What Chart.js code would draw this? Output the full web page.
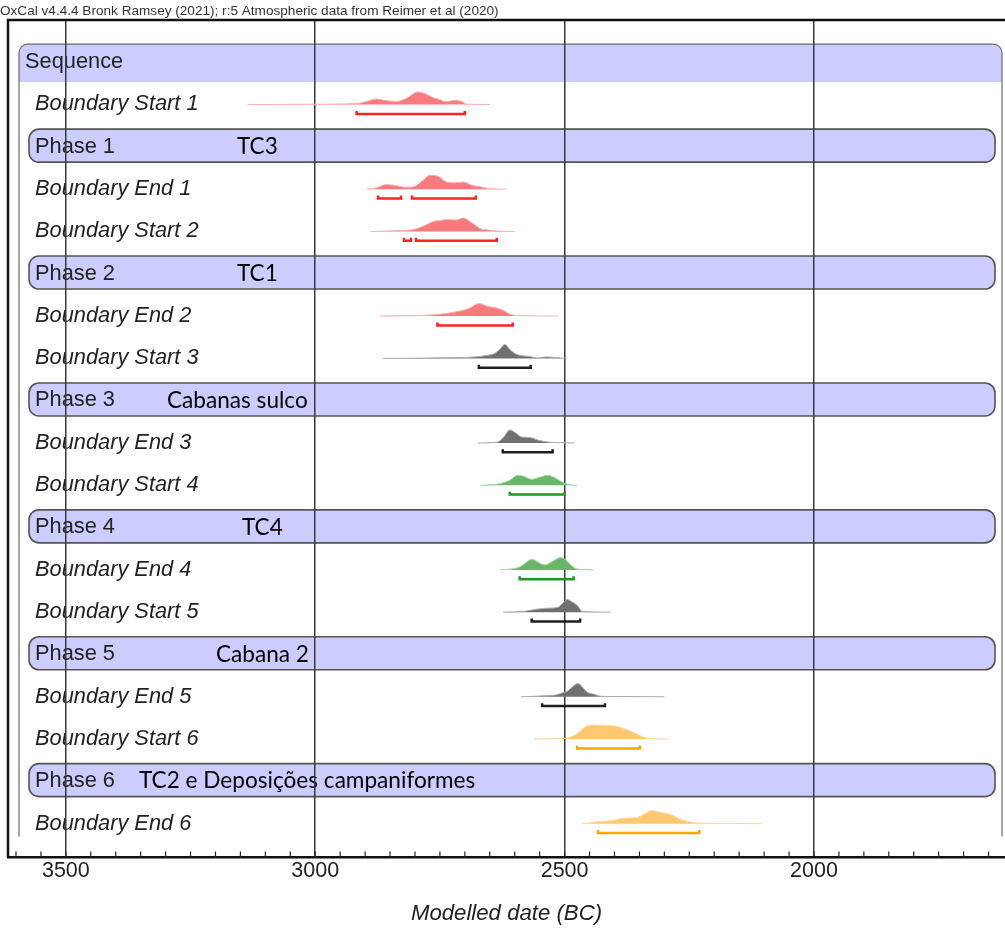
<!DOCTYPE html>
<html>
<head>
<meta charset="utf-8">
<title>Modelled dates</title>
<script src="https://cdn.jsdelivr.net/npm/chart.js@4.4.0/dist/chart.umd.min.js"></script>
<style>
  html, body { margin: 0; padding: 0; background: #fff; }
  #wrap { width: 1005px; height: 929px; position: relative; }
</style>
</head>
<body>
<div id="wrap"><canvas id="chart" width="1005" height="929"></canvas></div>
<script>
const header = 'OxCal v4.4.4 Bronk Ramsey (2021); r:5 Atmospheric data from Reimer et al (2020)';

const rowLabels = [
  'Sequence',
  'Boundary Start 1', 'Phase 1', 'Boundary End 1',
  'Boundary Start 2', 'Phase 2', 'Boundary End 2',
  'Boundary Start 3', 'Phase 3', 'Boundary End 3',
  'Boundary Start 4', 'Phase 4', 'Boundary End 4',
  'Boundary Start 5', 'Phase 5', 'Boundary End 5',
  'Boundary Start 6', 'Phase 6', 'Boundary End 6'
];
const phaseNotes = ['TC3', 'TC1', 'Cabanas sulco', 'TC4', 'Cabana 2', 'TC2 e Deposições campaniformes'];
const tickYears = [3500, 3000, 2500, 2000];

// posterior densities (years BC, relative probability) and 95.4% ranges
const start1Years = [3136, 3031, 2917, 2898, 2877, 2858, 2837, 2818, 2794, 2780, 2764, 2750, 2740, 2730, 2717, 2706, 2697, 2680, 2650];
const start1Prob  = [0, 0.3, 1, 3, 5.6, 4, 3, 6, 12.6, 11, 7, 5, 3, 3.5, 4.3, 3, 0.5, 0.3, 0];
const start1Range = [[2917, 2700]];

const end1Years = [2897, 2880, 2857, 2838, 2817, 2800, 2786, 2770, 2754, 2737, 2720, 2703, 2686, 2670, 2656, 2640, 2618];
const end1Prob  = [0, 1, 4.7, 3.5, 2, 3, 8, 14, 13, 7.3, 6.5, 7.3, 4, 2.5, 1, 0.3, 0];
const end1Range = [[2874, 2828], [2806, 2678]];

const start2Years = [2889, 2824, 2808, 2790, 2776, 2764, 2750, 2734, 2718, 2703, 2690, 2678, 2670, 2654, 2636, 2600];
const start2Prob  = [0, 1, 1.5, 4, 7, 10, 11, 12, 11.5, 13.5, 10, 6, 3, 1.5, 0.5, 0];
const start2Range = [[2822, 2808], [2798, 2636]];

const end2Years = [2870, 2770, 2740, 2710, 2690, 2672, 2656, 2636, 2624, 2610, 2590, 2513];
const end2Prob  = [0, 1, 2.5, 5, 8, 12.6, 10, 8, 6, 2, 0.5, 0];
const end2Range = [[2755, 2604]];

const start3Years = [2864, 2714, 2680, 2656, 2640, 2630, 2620, 2610, 2596, 2570, 2554, 2536, 2520, 2500];
const start3Prob  = [0, 0.8, 1.5, 3, 5, 9, 14, 9, 4, 2, 0.5, 1.5, 1, 0];
const start3Range = [[2672, 2568]];

const end3Years = [2674, 2634, 2622, 2610, 2598, 2586, 2570, 2554, 2534, 2510, 2480];
const end3Prob  = [0, 1, 6, 13, 10, 6, 5.5, 3, 1, 0.3, 0];
const end3Range = [[2624, 2524]];

const start4Years = [2670, 2630, 2610, 2594, 2582, 2566, 2550, 2534, 2518, 2504, 2494, 2475];
const start4Prob  = [0, 1.5, 5, 10, 9, 6, 8, 10, 7, 3, 1, 0];
const start4Range = [[2610, 2500]];

const end4Years = [2630, 2606, 2590, 2578, 2566, 2554, 2540, 2526, 2508, 2498, 2490, 2476, 2459, 2443];
const end4Prob  = [0, 1, 3, 7, 10.6, 8, 5, 8, 12.3, 10, 6, 1, 0.3, 0];
const end4Range = [[2590, 2482]];

const start5Years = [2623, 2580, 2556, 2534, 2513, 2504, 2495, 2484, 2473, 2466, 2439, 2407];
const start5Prob  = [0, 1, 3, 4, 5, 9, 12.7, 10, 6, 1, 0.3, 0];
const start5Range = [[2566, 2469]];

const end5Years = [2588, 2540, 2516, 2504, 2493, 2484, 2473, 2463, 2456, 2441, 2426, 2389, 2300];
const end5Prob  = [0, 1, 2, 4, 6, 10, 13.3, 9, 5, 2.5, 0.5, 0.3, 0];
const end5Range = [[2545, 2419]];

const start6Years = [2560, 2510, 2490, 2473, 2456, 2439, 2419, 2399, 2379, 2359, 2343, 2329, 2291];
const start6Prob  = [0, 0.5, 1.5, 6, 13, 14, 13.5, 13, 10, 6, 2, 0.5, 0];
const start6Range = [[2475, 2349]];

const end6Years = [2463, 2433, 2406, 2379, 2356, 2339, 2326, 2305, 2286, 2266, 2246, 2229, 2169, 2105];
const end6Prob  = [0, 2, 3, 5.6, 6, 10, 13, 11, 9, 4, 1.5, 0.5, 0.3, 0];
const end6Range = [[2433, 2230]];

const tones = {
  red:    { fill: 'rgb(248,122,126)', line: 'rgb(255,176,176)', bar: 'rgb(255,35,35)' },
  gray:   { fill: 'rgb(112,112,112)', line: 'rgb(172,172,172)', bar: 'rgb(30,30,30)' },
  green:  { fill: 'rgb(104,182,104)', line: 'rgb(165,212,165)', bar: 'rgb(35,150,35)' },
  orange: { fill: 'rgb(255,200,112)', line: 'rgb(255,214,156)', bar: 'rgb(255,165,0)' }
};

const boundaries = [
  { row: 'Boundary Start 1', years: start1Years, prob: start1Prob, range: start1Range, tone: 'red' },
  { row: 'Boundary End 1',   years: end1Years,   prob: end1Prob,   range: end1Range,   tone: 'red' },
  { row: 'Boundary Start 2', years: start2Years, prob: start2Prob, range: start2Range, tone: 'red' },
  { row: 'Boundary End 2',   years: end2Years,   prob: end2Prob,   range: end2Range,   tone: 'red' },
  { row: 'Boundary Start 3', years: start3Years, prob: start3Prob, range: start3Range, tone: 'gray' },
  { row: 'Boundary End 3',   years: end3Years,   prob: end3Prob,   range: end3Range,   tone: 'gray' },
  { row: 'Boundary Start 4', years: start4Years, prob: start4Prob, range: start4Range, tone: 'green' },
  { row: 'Boundary End 4',   years: end4Years,   prob: end4Prob,   range: end4Range,   tone: 'green' },
  { row: 'Boundary Start 5', years: start5Years, prob: start5Prob, range: start5Range, tone: 'gray' },
  { row: 'Boundary End 5',   years: end5Years,   prob: end5Prob,   range: end5Range,   tone: 'gray' },
  { row: 'Boundary Start 6', years: start6Years, prob: start6Prob, range: start6Range, tone: 'orange' },
  { row: 'Boundary End 6',   years: end6Years,   prob: end6Prob,   range: end6Range,   tone: 'orange' }
];

const probScale = 1 / 42.3;   // density units -> row heights
const baseShift = 0.03;       // density baseline just under the row centre
const barShift = 0.25;        // range bar below the density
const barHook = 0.07;         // little upturned ends of range bars

const datasets = [];
boundaries.forEach(b => {
  const row = rowLabels.indexOf(b.row);
  const base = row + baseShift;
  const t = tones[b.tone];
  datasets.push({
    data: b.years.map((yr, i) => ({ x: yr, y: base - b.prob[i] * probScale })),
    borderColor: t.line,
    backgroundColor: t.fill,
    borderWidth: 1,
    fill: { value: base },
    pointRadius: 0,
    cubicInterpolationMode: 'monotone'
  });
  const bar = row + barShift;
  const pts = [];
  b.range.forEach(([from, to]) => {
    pts.push({ x: from, y: bar - barHook }, { x: from, y: bar }, { x: to, y: bar }, { x: to, y: bar - barHook }, { x: to, y: null });
  });
  datasets.push({
    data: pts,
    borderColor: t.bar,
    borderWidth: 2.5,
    fill: false,
    pointRadius: 0,
    tension: 0,
    spanGaps: false
  });
});

const noteLeft = [237, 237, 167, 242, 216, 139];
const labelFont = '"Liberation Sans", Arial, sans-serif';

const oxcalLayers = {
  id: 'oxcalLayers',
  beforeDraw(chart) {
    const { ctx, chartArea: area, scales: { y } } = chart;
    const rowY = i => y.getPixelForValue(i);
    ctx.save();

    // sequence bracket
    const sy = rowY(0);
    const sl = area.left + 11, sr = area.right - 3, st = sy - 17, sb = sy + 21, r = 9;
    const bottomY = rowY(rowLabels.length - 1) + 14;
    ctx.fillStyle = '#ccccff';
    ctx.beginPath();
    ctx.moveTo(sl, sb);
    ctx.lineTo(sl, st + r);
    ctx.arcTo(sl, st, sl + r, st, r);
    ctx.lineTo(sr - r, st);
    ctx.arcTo(sr, st, sr, st + r, r);
    ctx.lineTo(sr, sb);
    ctx.closePath();
    ctx.fill();
    ctx.strokeStyle = '#6a6a6a';
    ctx.lineWidth = 1.2;
    ctx.beginPath();
    ctx.moveTo(sl, bottomY);
    ctx.lineTo(sl, st + r);
    ctx.arcTo(sl, st, sl + r, st, r);
    ctx.lineTo(sr - r, st);
    ctx.arcTo(sr, st, sr, st + r, r);
    ctx.lineTo(sr, bottomY);
    ctx.stroke();

    // phase boxes with their site notes
    let p = 0;
    rowLabels.forEach((label, i) => {
      if (!label.startsWith('Phase')) return;
      const cy = rowY(i);
      const bl = area.left + 21, br = area.right - 10;
      ctx.beginPath();
      ctx.roundRect(bl, cy - 16.5, br - bl, 33, 10);
      ctx.fillStyle = '#ccccff';
      ctx.fill();
      ctx.strokeStyle = '#555';
      ctx.lineWidth = 1.6;
      ctx.stroke();
      ctx.fillStyle = '#000';
      ctx.font = '22.6px Lato';
      ctx.textBaseline = 'middle';
      ctx.fillText(phaseNotes[p], noteLeft[p], cy + 1);
      p++;
    });

    // row labels
    ctx.fillStyle = '#222';
    ctx.textBaseline = 'middle';
    rowLabels.forEach((label, i) => {
      const boundary = label.startsWith('Boundary');
      ctx.font = (boundary ? 'italic ' : '') + '21.8px ' + labelFont;
      const x = label === 'Sequence' ? area.left + 17 : area.left + 27;
      ctx.fillText(label, x, rowY(i) + 1);
    });
    ctx.restore();
  },
  afterDraw(chart) {
    const { ctx, chartArea: area, scales: { x } } = chart;
    ctx.save();
    ctx.fillStyle = '#333';
    ctx.font = '13.6px ' + labelFont;
    ctx.textBaseline = 'alphabetic';
    ctx.fillText(header, 0, 15);

    // plot frame
    ctx.strokeStyle = '#111';
    ctx.lineWidth = 2.5;
    ctx.beginPath();
    ctx.moveTo(area.right, area.top);
    ctx.lineTo(area.left, area.top);
    ctx.lineTo(area.left, area.bottom);
    ctx.stroke();

    // minor ticks every 50 years
    ctx.lineWidth = 1.2;
    ctx.strokeStyle = '#222';
    ctx.beginPath();
    for (let yr = Math.ceil(x.min / 50) * 50; yr <= x.max; yr += 50) {
      const px = x.getPixelForValue(yr);
      ctx.moveTo(px, area.bottom);
      ctx.lineTo(px, area.bottom - 6);
    }
    ctx.stroke();
    ctx.restore();
  }
};

new Chart(document.getElementById('chart'), {
  type: 'line',
  data: { datasets },
  options: {
    responsive: false,
    animation: false,
    layout: { padding: { left: 8, top: 20, right: 0, bottom: 2 } },
    plugins: { legend: { display: false }, tooltip: { enabled: false }, title: { display: false } },
    scales: {
      x: {
        type: 'linear',
        reverse: true,
        min: 1617,
        max: 3616,
        z: 1,
        afterBuildTicks: scale => { scale.ticks = tickYears.map(v => ({ value: v })); },
        grid: { color: '#3a3a3a', lineWidth: 1.5, drawTicks: false },
        border: { display: true, color: '#111', width: 2.5 },
        ticks: {
          font: { family: labelFont, size: 21.5 },
          color: '#222',
          padding: 1,
          maxRotation: 0,
          autoSkip: false,
          callback: v => String(v)
        },
        title: {
          display: true,
          text: 'Modelled date (BC)',
          font: { family: labelFont, size: 22.2, style: 'italic' },
          color: '#222',
          padding: { top: 15, bottom: 0 }
        }
      },
      y: {
        type: 'linear',
        reverse: true,
        min: -0.97,
        max: 18.83,
        display: false
      }
    }
  },
  plugins: [oxcalLayers]
});
</script>
</body>
</html>
